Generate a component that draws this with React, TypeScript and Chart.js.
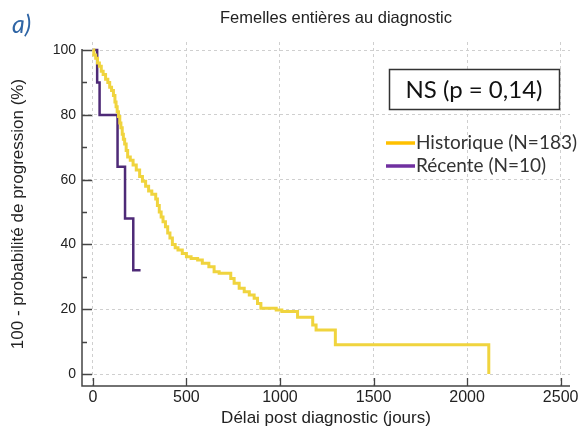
import React, { useEffect, useRef } from 'react';
import { Chart, registerables } from 'chart.js';

Chart.register(...registerables);

// ---- data ----
const histTimes = [0, 5, 15, 25, 35, 45, 55, 68, 80, 90, 100, 110, 118, 124, 130, 137, 144, 150, 157, 163, 170, 178, 186, 200, 215, 232, 250, 265, 282, 298, 315, 336, 345, 355, 365, 375, 388, 400, 412, 425, 440, 455, 478, 500, 525, 560, 585, 620, 648, 675, 737, 755, 782, 809, 836, 862, 880, 898, 980, 1010, 1094, 1175, 1193, 1296, 2116];
const histSurv = [100, 98.5, 97.5, 96, 95, 93.5, 92.5, 91, 90, 88.5, 87.5, 86, 84, 82.5, 81, 79.5, 77.5, 76, 74, 72.5, 71, 69, 67, 66, 64.5, 63, 61, 59.5, 58, 56.5, 55.5, 54, 52, 50, 48.5, 47, 45.5, 43.5, 42, 40, 39, 38.3, 37.2, 36.2, 35.7, 35.2, 34.2, 33.1, 31.6, 31.1, 29.5, 28, 26.5, 25.4, 24.4, 23.4, 21.8, 20.3, 19.8, 19.3, 17.5, 15.1, 13.6, 9, 0];
const recTimes = [0, 23, 36, 132, 172, 216, 255];
const recSurv = [100, 90, 80, 64, 48, 32, 32];

const xTicks = [0, 500, 1000, 1500, 2000, 2500];
const yTicks = [0, 20, 40, 60, 80, 100];
const yMinorTicks = [10, 30, 50, 70, 90];

const seriesLabels = ['Historique (N=183)', 'Récente (N=10)'];
const chartTitle = 'Femelles entières au diagnostic';
const panelLabel = 'a)';
const statText = 'NS (p = 0,14)';
const xTitle = 'Délai post diagnostic (jours)';
const yTitle = '100 - probabilité de progression (%)';

const SANS = '"Liberation Sans", Arial, sans-serif';
const CAL = 'Lato, "Open Sans", sans-serif';

const decor = {
  id: 'decor',
  afterDatasetsDraw(chart: any) {
    const { ctx, chartArea, scales } = chart;
    const x = scales.x;
    const y = scales.y;
    ctx.save();
    ctx.strokeStyle = '#444';
    ctx.lineWidth = 1.5;
    ctx.beginPath();
    ctx.moveTo(chartArea.left, y.getPixelForValue(100) - 1);
    ctx.lineTo(chartArea.left, chartArea.bottom);
    ctx.lineTo(chartArea.right, chartArea.bottom);
    ctx.stroke();
    ctx.lineWidth = 1.3;
    ctx.beginPath();
    yTicks.forEach((v) => {
      const py = Math.round(y.getPixelForValue(v)) + 0.5;
      ctx.moveTo(chartArea.left, py);
      ctx.lineTo(chartArea.left + 10, py);
    });
    yMinorTicks.forEach((v) => {
      const py = Math.round(y.getPixelForValue(v)) + 0.5;
      ctx.moveTo(chartArea.left, py);
      ctx.lineTo(chartArea.left + 5, py);
    });
    xTicks.forEach((v) => {
      const px = Math.round(x.getPixelForValue(v)) + 0.5;
      ctx.moveTo(px, chartArea.bottom);
      ctx.lineTo(px, chartArea.bottom - 8);
    });
    ctx.stroke();
    ctx.restore();
  },
  afterDraw(chart: any) {
    const { ctx } = chart;
    ctx.save();
    ctx.fillStyle = '#2f65a5';
    ctx.font = 'italic 25px ' + CAL;
    ctx.textAlign = 'left';
    ctx.textBaseline = 'middle';
    ctx.fillText(panelLabel, 12, 25);
    ctx.fillStyle = '#222';
    ctx.font = '16.5px ' + SANS;
    ctx.textAlign = 'center';
    ctx.fillText(chartTitle, 336, 18);
    ctx.fillStyle = '#fff';
    ctx.fillRect(389, 69, 170, 40);
    ctx.strokeStyle = '#333';
    ctx.lineWidth = 1.5;
    ctx.strokeRect(389.5, 69.5, 170, 40);
    ctx.fillStyle = '#111';
    ctx.font = '24px ' + CAL;
    ctx.fillText(statText, 474, 90);
    const ds = chart.data.datasets;
    const rows = [143, 166];
    ds.forEach((d: any, i: number) => {
      ctx.strokeStyle = d.legendColor;
      ctx.lineWidth = 3.5;
      ctx.beginPath();
      ctx.moveTo(386, rows[i]);
      ctx.lineTo(415, rows[i]);
      ctx.stroke();
      ctx.fillStyle = '#333';
      ctx.font = '19px ' + CAL;
      ctx.textAlign = 'left';
      ctx.fillText(d.label, 416, rows[i]);
    });
    ctx.restore();
  },
};

export default function App() {
  const ref = useRef<HTMLCanvasElement>(null);
  useEffect(() => {
    if (!ref.current) return;
    const chart = new Chart(ref.current, {
      type: 'line',
      data: {
        datasets: [
          {
            label: seriesLabels[0],
            data: histTimes.map((t, i) => ({ x: t, y: histSurv[i] })),
            borderColor: '#f0d43e',
            legendColor: '#FFC000',
            borderWidth: 3,
            stepped: true,
            pointRadius: 0,
            fill: false,
          } as any,
          {
            label: seriesLabels[1],
            data: recTimes.map((t, i) => ({ x: t, y: recSurv[i] })),
            borderColor: '#4e2a77',
            legendColor: '#7030A0',
            borderWidth: 2.5,
            stepped: true,
            pointRadius: 0,
            fill: false,
          } as any,
        ],
      },
      options: {
        responsive: false,
        animation: false,
        layout: { padding: { left: 0, top: 42, right: 13, bottom: 0 } },
        plugins: {
          legend: { display: false },
          tooltip: { enabled: false },
          title: { display: false },
        },
        scales: {
          x: {
            type: 'linear',
            min: -58,
            max: 2550,
            afterFit: (s: any) => {
              s.height = 48;
            },
            afterBuildTicks: (s: any) => {
              s.ticks = xTicks.map((v) => ({ value: v }));
            },
            ticks: {
              autoSkip: false,
              maxRotation: 0,
              padding: 2,
              color: '#222',
              font: { family: SANS, size: 16 },
              callback: (v: any) => String(v),
            },
            grid: { color: '#cfcfcf', lineWidth: 1, drawTicks: false },
            border: { display: false, dash: [3, 3] },
            title: {
              display: true,
              text: xTitle,
              color: '#222',
              font: { family: SANS, size: 17 },
              padding: { top: 0, bottom: 5 },
            },
          },
          y: {
            type: 'linear',
            min: -3.7,
            max: 102.5,
            afterFit: (s: any) => {
              s.width = 82;
            },
            afterBuildTicks: (s: any) => {
              s.ticks = yTicks.map((v) => ({ value: v }));
            },
            ticks: {
              autoSkip: false,
              padding: 6,
              color: '#222',
              font: { family: SANS, size: 14 },
              callback: (v: any) => String(v),
            },
            grid: { color: '#cfcfcf', lineWidth: 1, drawTicks: false },
            border: { display: false, dash: [3, 3] },
            title: {
              display: true,
              text: yTitle,
              color: '#222',
              font: { family: SANS, size: 17 },
              padding: { top: 8, bottom: 0 },
            },
          },
        },
      },
      plugins: [decor],
    });
    return () => chart.destroy();
  }, []);
  return (
    <div style={{ position: 'fixed', left: 0, top: 0, width: 583, height: 434, background: '#fff' }}>
      <canvas ref={ref} width={583} height={434} />
    </div>
  );
}
